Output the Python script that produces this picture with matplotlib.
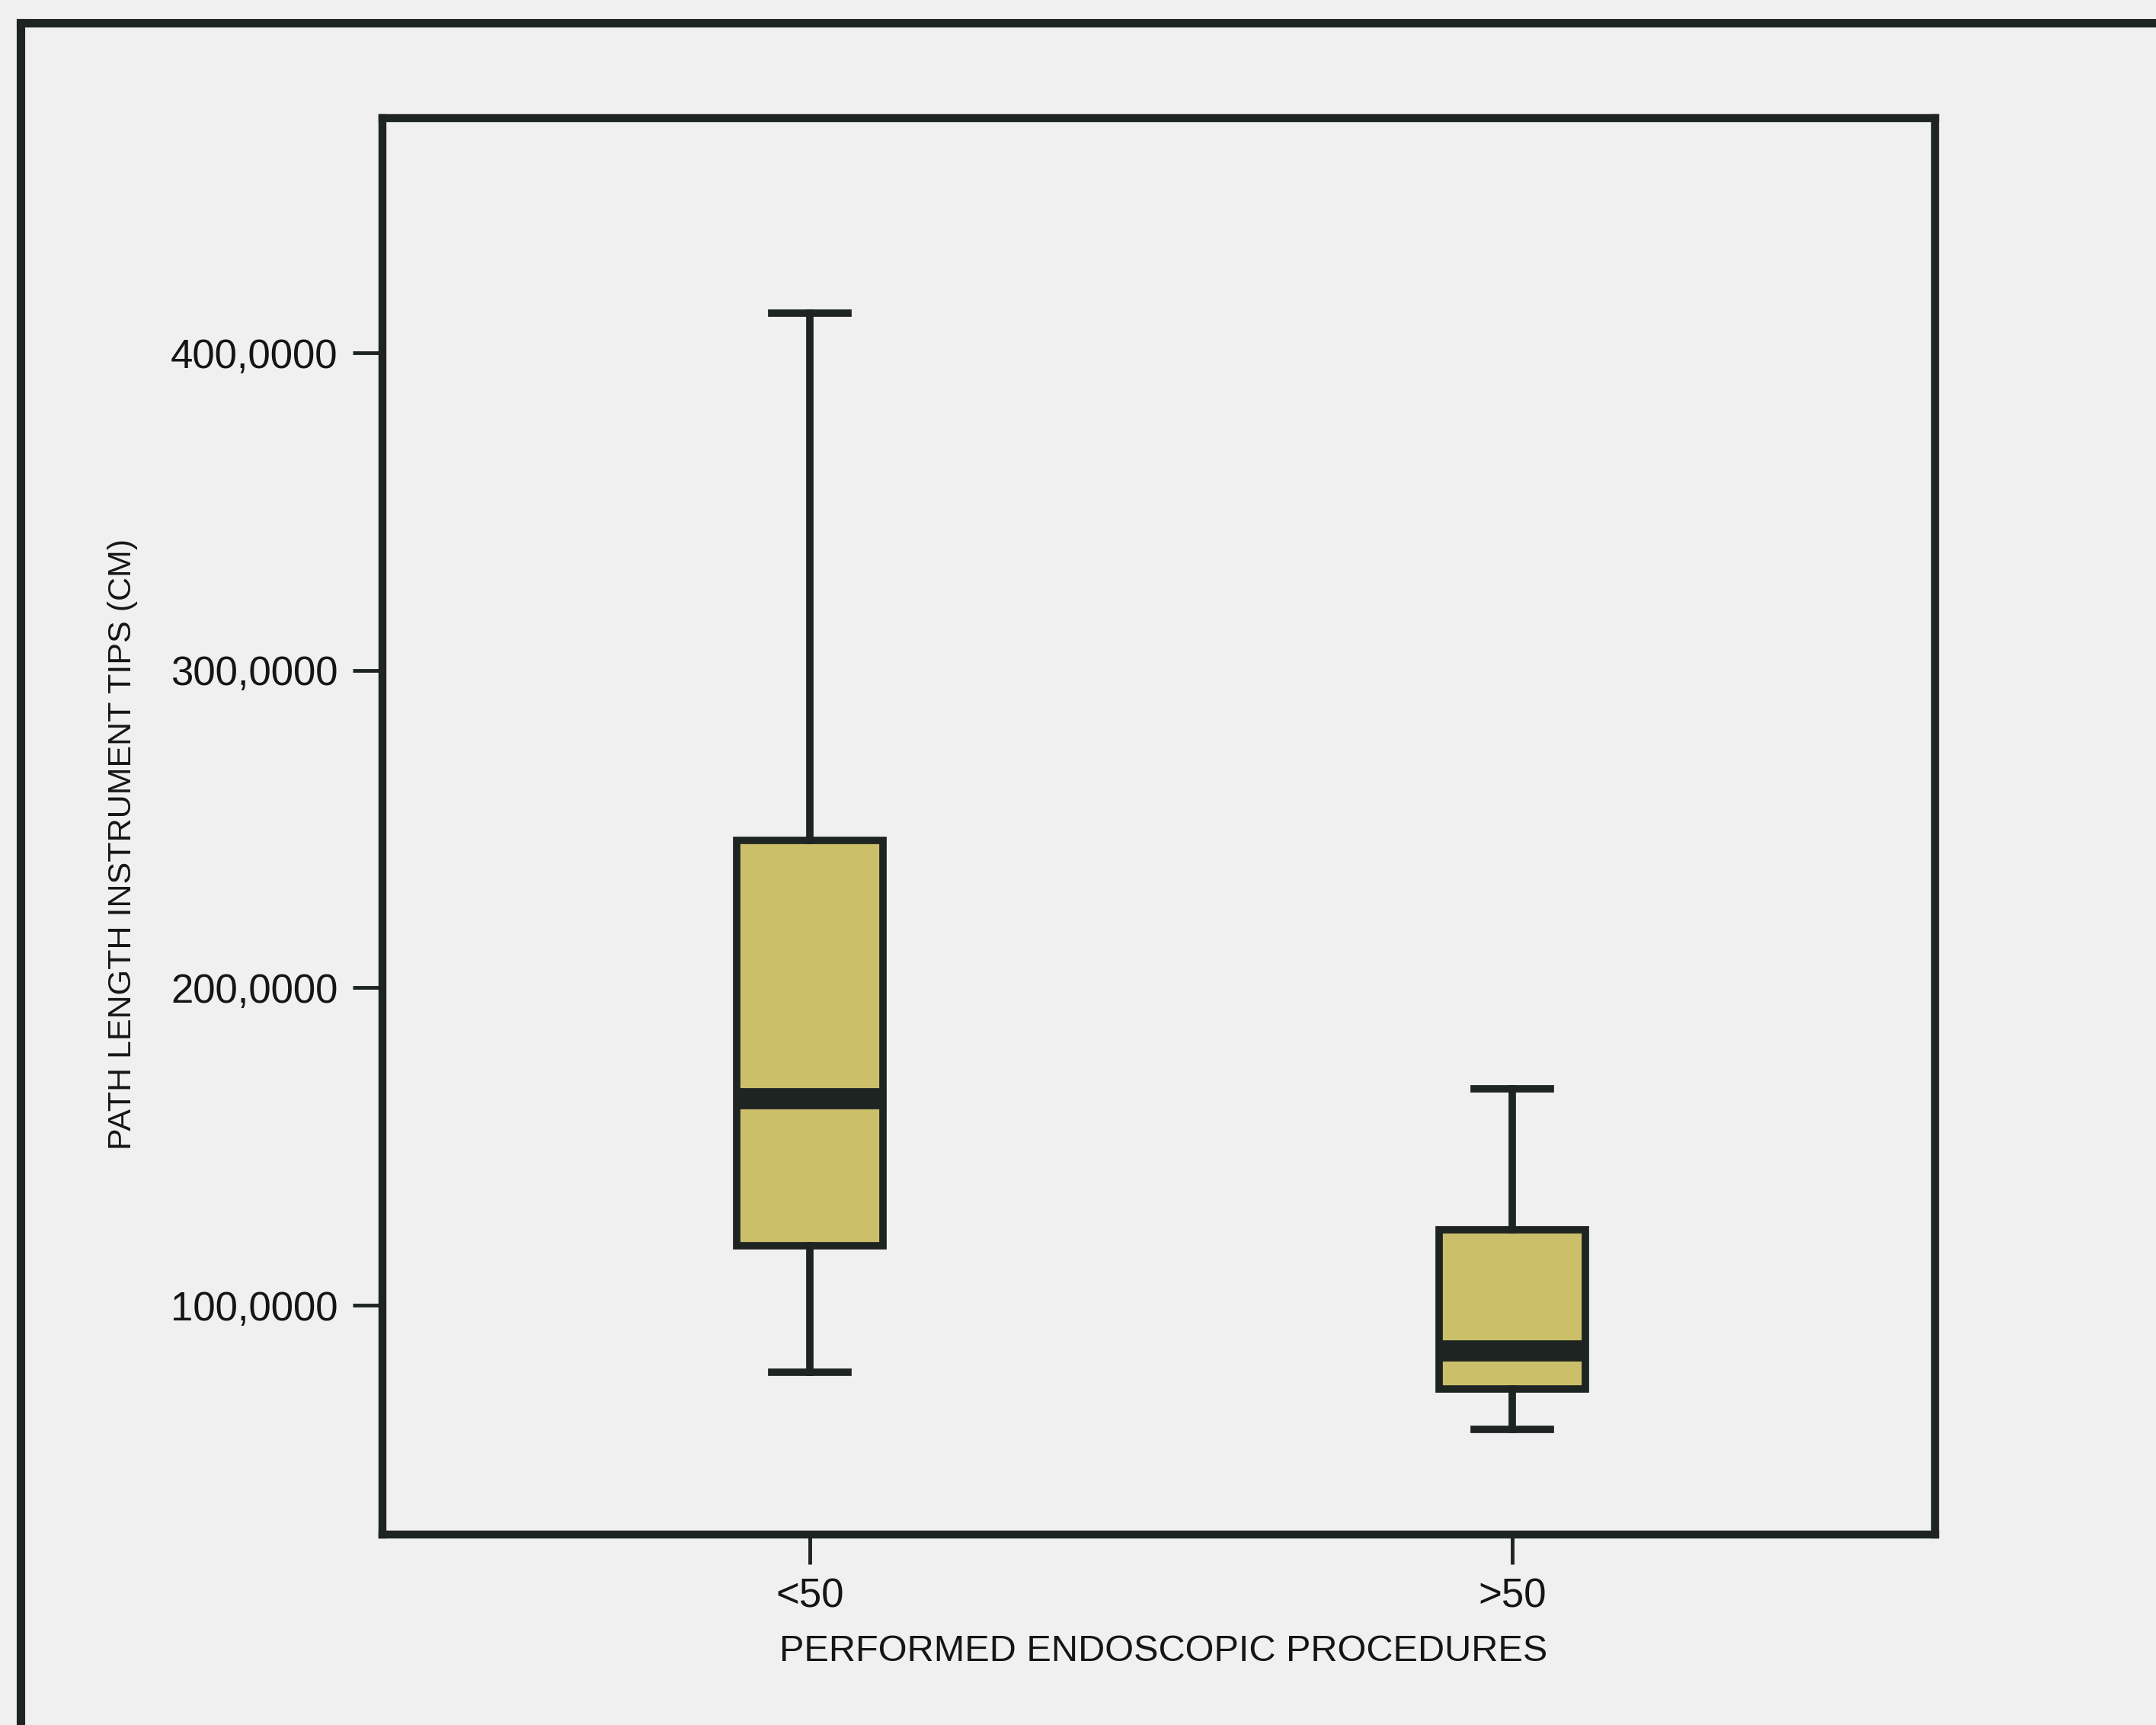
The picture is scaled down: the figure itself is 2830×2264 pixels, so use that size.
import matplotlib
matplotlib.use("Agg")
import matplotlib.pyplot as plt
from matplotlib.lines import Line2D

# values
groups = ['<50', '>50']
whisker_low = [78.9, 60.9]
q1 = [118.7, 73.7]
median = [165.1, 85.6]
q3 = [246.5, 123.8]
whisker_high = [412.5, 168.3]

yticks = [100, 200, 300, 400]
ytick_labels = ['100,0000', '200,0000', '300,0000', '400,0000']

plt.rcParams['font.family'] = ['Liberation Sans', 'DejaVu Sans']

bg = '#f0f0f0'
dark = '#1e2422'
fill = '#cbbf6a'

fig = plt.figure(figsize=(28.3, 22.64), dpi=100, facecolor=bg)
ax = fig.add_axes([0.1774, 0.1104, 0.7201, 0.8211])
ax.set_facecolor(bg)

stats = []
for g, lo, a, m, b, hi in zip(groups, whisker_low, q1, median, q3, whisker_high):
    stats.append(dict(label=g, whislo=lo, q1=a, med=m, q3=b, whishi=hi, fliers=[]))

ax.bxp(stats, positions=[1, 2], widths=0.208, capwidths=0.1085,
       patch_artist=True, showfliers=False,
       boxprops=dict(facecolor=fill, edgecolor=dark, linewidth=7),
       whiskerprops=dict(color=dark, linewidth=7),
       capprops=dict(color=dark, linewidth=7),
       medianprops=dict(color=dark, linewidth=20, solid_capstyle='butt'))

ax.set_xlim(0.3915, 2.6019)
ax.set_ylim(27.8, 473.9)
ax.set_yticks(yticks)
ax.set_yticklabels(ytick_labels)
ax.set_xticks([1, 2])
ax.set_xticklabels(groups)

for s in ax.spines.values():
    s.set_linewidth(7.5)
    s.set_color(dark)

ax.tick_params(axis='both', length=28, width=3.5, color=dark,
               labelsize=38, labelcolor='#151515')
ax.tick_params(axis='y', pad=14)
ax.tick_params(axis='x', pad=13)

fig.text(0.5396, 0.0428, 'PERFORMED ENDOSCOPIC PROCEDURES', fontsize=35,
         color='#151515', ha='center', va='center')
fig.text(0.0569, 0.5106, 'PATH LENGTH INSTRUMENT TIPS (CM)', fontsize=31,
         color='#151515', ha='center', va='center', rotation=90)

# page frame lines from the scan (top and left edges)
fig.add_artist(Line2D([0.0095, 1.0], [0.9867, 0.9867], transform=fig.transFigure,
                      color=dark, linewidth=8))
fig.add_artist(Line2D([0.0095, 0.0095], [0.0, 0.9867], transform=fig.transFigure,
                      color=dark, linewidth=8))

fig.savefig('out.png', dpi=100, facecolor=bg)
